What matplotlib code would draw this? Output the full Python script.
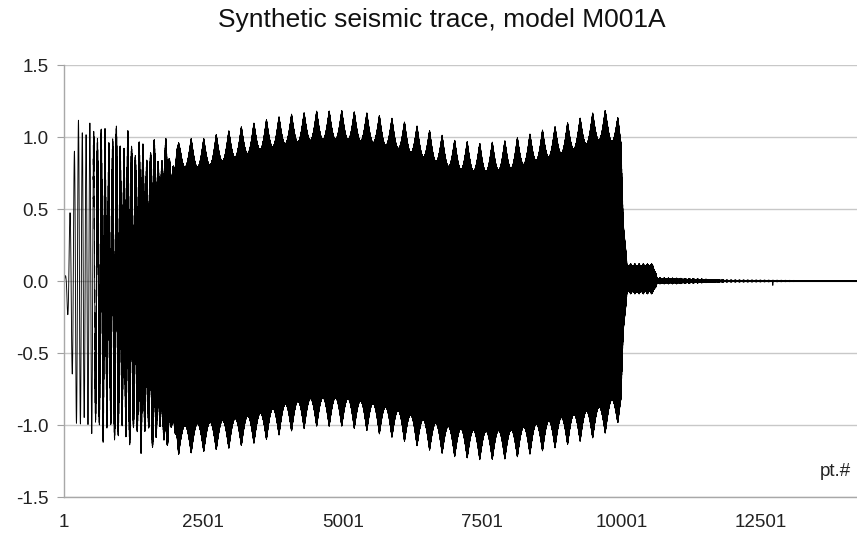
"""Synthetic seismic trace, model M001A - redrawn from the screenshot."""

import numpy as np
import matplotlib.pyplot as plt

plt.rcParams['font.family'] = ['Liberation Sans', 'DejaVu Sans']
plt.rcParams['axes.unicode_minus'] = False
plt.rcParams['path.simplify'] = False

n_points = 14222

# envelope of the trace (point number -> reach at the ripple peaks)
env_pts = [1, 40, 110, 160, 210, 650, 1100, 1600, 2000, 2500, 3000, 3500, 4000, 4500,
           5000, 5500, 6000, 6500, 7000, 7500, 8000, 8500, 9000, 9500, 9750, 9950,
           9990, 10030, 10095, 10560, 10640, 11000, 11500, 11870, 13300, 13500, 14222]
upper_env = [0.0, 0.06, 0.50, 0.78, 1.12, 1.13, 1.08, 1.02, 0.99, 0.99, 1.05, 1.11, 1.155, 1.18,
             1.185, 1.165, 1.12, 1.055, 0.98, 0.956, 0.98, 1.04, 1.095, 1.17, 1.19, 1.13,
             1.10, 0.50, 0.12, 0.12, 0.022, 0.020, 0.013, 0.006, 0.004, 0.001, 0.001]
lower_env = [0.0, -0.10, -0.45, -0.76, -1.03, -1.12, -1.19, -1.21, -1.21, -1.185, -1.16, -1.12, -1.05, -1.01,
             -1.01, -1.045, -1.10, -1.17, -1.22, -1.243, -1.235, -1.19, -1.14, -1.09, -1.05, -0.98,
             -0.96, -0.45, -0.09, -0.09, -0.020, -0.020, -0.012, -0.006, -0.004, -0.001, -0.001]
# depth and length (in points) of the scalloped ripple on the envelope
ripple_depth = [0.0, 0.0, 0.02, 0.05, 0.10, 0.14, 0.18, 0.20, 0.20, 0.20, 0.20, 0.20, 0.20, 0.20,
                0.20, 0.20, 0.20, 0.20, 0.20, 0.20, 0.20, 0.20, 0.20, 0.20, 0.20, 0.20,
                0.20, 0.10, 0.018, 0.018, 0.008, 0.008, 0.005, 0.002, 0.0, 0.0, 0.0]
ripple_period = [225] * 26 + [225, 150, 75, 75, 75, 75, 75, 75, 75, 75, 75]
ripple_peak_pt = 1832

# slow wavelets visible at the start, fading into the dense part
lf_pts = [1, 300, 14222]
lf_period = [90, 68, 68]
share_pts = [1, 500, 650, 850, 1000, 1150, 1545, 1850, 2100, 14222]
hf_share = [0.0, 0.0, 0.25, 0.38, 0.48, 0.57, 0.76, 0.92, 1.0, 1.0]

# small spike on the flat tail
glitch_pt = 12712
glitch_val = -0.035

x_ticks = [1, 2501, 5001, 7501, 10001, 12501]
y_ticks = [-1.5, -1.0, -0.5, 0.0, 0.5, 1.0, 1.5]
y_labels = ['-1.5', '-1.0', '-0.5', '0.0', '0.5', '1.0', '1.5']


def build_trace():
    n = np.arange(1, n_points + 1)
    up = np.interp(n, env_pts, upper_env)
    lo = np.interp(n, env_pts, lower_env)
    depth = np.interp(n, env_pts, ripple_depth)
    per = np.interp(n, env_pts, ripple_period)
    ph = np.cumsum(1.0 / per)
    ph -= ph[ripple_peak_pt - 1]
    dip = np.abs(np.sin(np.pi * ph))
    up = up - depth * dip
    lo = lo + depth * dip
    mid = (up + lo) / 2
    half = (up - lo) / 2
    w = np.interp(n, share_pts, hf_share)
    lf = np.sin(2 * np.pi * np.cumsum(1.0 / np.interp(n, lf_pts, lf_period)))
    hf = np.where(n % 2 == 0, 1.0, -1.0)
    y = mid + half * ((1 - w) * lf + w * hf)
    y[glitch_pt - 1] += glitch_val
    return n, y


pts, trace = build_trace()

fig = plt.figure(figsize=(8.57, 5.38), dpi=100)
ax = fig.add_axes([64 / 857, 41 / 538, 793 / 857, 432 / 538])

ax.plot(pts, trace, color='black', lw=0.65)

ax.set_xlim(1, n_points)
ax.set_ylim(-1.5, 1.5)
ax.set_xticks(x_ticks)
ax.set_xticklabels([str(t) for t in x_ticks])
ax.set_yticks(y_ticks)
ax.set_yticklabels(y_labels)
ax.tick_params(axis='x', length=0, pad=12, labelsize=13.5, labelcolor='#222222')
ax.tick_params(axis='y', length=5, width=0.8, color='#a0a0a0', pad=6, labelsize=13.5, labelcolor='#222222')

ax.set_axisbelow(True)
ax.yaxis.grid(True, color='#c8c8c8', lw=1)
for side in ['top', 'right']:
    ax.spines[side].set_visible(False)
for side in ['left', 'bottom']:
    ax.spines[side].set_color('#a8a8a8')
    ax.spines[side].set_linewidth(1)

fig.text(442 / 857, 1 - 20 / 538, 'Synthetic seismic trace, model M001A',
         ha='center', va='center', fontsize=19, color='#111111')
fig.text(835 / 857, 1 - 472 / 538, 'pt.#', ha='center', va='center', fontsize=13.5, color='#222222')

fig.savefig('out.png', dpi=100, facecolor='white')
